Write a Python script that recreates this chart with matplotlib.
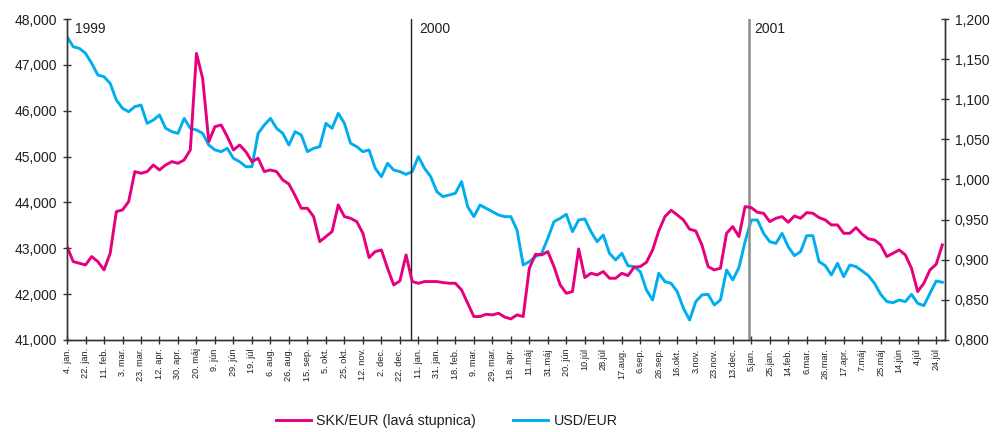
import numpy as np
import matplotlib
matplotlib.use("Agg")
import matplotlib.pyplot as plt
from matplotlib.ticker import FuncFormatter

plt.rcParams['font.family'] = ['Liberation Sans', 'DejaVu Sans']

# x tick labels (one tick every 14 trading days)
tick_labels = ["4. jan.", "22. jan.", "11. feb.", "3. mar.", "23. mar.", "12. apr.", "30. apr.",
               "20. máj", "9. jún", "29. jún", "19. júl", "6. aug.", "26. aug.", "15. sep.",
               "5. okt.", "25. okt.", "12. nov.", "2. dec.", "22. dec.",
               "11. jan.", "31. jan.", "18. feb.", "9. mar.", "29. mar.", "18. apr.", "11.máj",
               "31.máj", "20. jún", "10.júl", "28.júl", "17.aug.", "6.sep.", "26.sep.",
               "16.okt.", "3.nov.", "23.nov.", "13.dec.",
               "5.jan.", "25.jan.", "14.feb.", "6.mar.", "26.mar.", "17.apr.", "7.máj",
               "25.máj", "14.jún", "4.júl", "24.júl"]

# samples every 1/3 of a tick interval (~weekly)
skk_eur = [43037, 42710, 42673, 42637, 42819, 42710, 42528, 42891, 43800, 43836,
           44018, 44672, 44635, 44672, 44817, 44708, 44817, 44890, 44853, 44926,
           45144, 47250, 46706, 45326, 45653, 45689, 45435, 45144, 45253, 45108,
           44890, 44963, 44672, 44708, 44672, 44490, 44400, 44150, 43872, 43872,
           43691, 43146, 43255, 43364, 43945, 43691, 43654, 43582, 43327, 42797,
           42928, 42964, 42564, 42201, 42288, 42855, 42274, 42237, 42274, 42274,
           42274, 42252, 42237, 42237, 42092, 41801, 41511, 41511, 41561, 41547,
           41583, 41500, 41460, 41547, 41511, 42564, 42869, 42855, 42928, 42601,
           42201, 42019, 42056, 42986, 42361, 42455, 42419, 42492, 42346, 42346,
           42455, 42404, 42586, 42601, 42695, 42964, 43378, 43691, 43829, 43727,
           43618, 43415, 43378, 43073, 42601, 42528, 42564, 43327, 43473, 43255,
           43909, 43887, 43785, 43763, 43582, 43654, 43691, 43567, 43705, 43654,
           43778, 43763, 43669, 43618, 43509, 43509, 43327, 43327, 43451, 43306,
           43204, 43182, 43073, 42819, 42891, 42964, 42855, 42564, 42056, 42237,
           42528, 42651, 43073]

usd_eur = [1.1780, 1.1655, 1.1634, 1.1572, 1.1448, 1.1302, 1.1281, 1.1198, 1.0991, 1.0887,
           1.0845, 1.0908, 1.0928, 1.0700, 1.0741, 1.0804, 1.0638, 1.0596, 1.0575, 1.0762,
           1.0638, 1.0617, 1.0575, 1.0430, 1.0368, 1.0347, 1.0388, 1.0264, 1.0222, 1.0160,
           1.0160, 1.0575, 1.0679, 1.0762, 1.0638, 1.0575, 1.0430, 1.0596, 1.0555, 1.0347,
           1.0388, 1.0409, 1.0700, 1.0638, 1.0825, 1.0700, 1.0451, 1.0409, 1.0347, 1.0368,
           1.0139, 1.0035, 1.0201, 1.0118, 1.0098, 1.0064, 1.0098, 1.0285, 1.0139, 1.0035,
           0.9848, 0.9786, 0.9807, 0.9828, 0.9973, 0.9661, 0.9537, 0.9682, 0.9641, 0.9599,
           0.9558, 0.9537, 0.9537, 0.9371, 0.8935, 0.8976, 0.9038, 0.9080, 0.9267, 0.9475,
           0.9516, 0.9566, 0.9350, 0.9495, 0.9508, 0.9350, 0.9225, 0.9308, 0.9080, 0.8997,
           0.9080, 0.8926, 0.8914, 0.8851, 0.8623, 0.8498, 0.8831, 0.8727, 0.8706, 0.8602,
           0.8395, 0.8249, 0.8478, 0.8561, 0.8569, 0.8436, 0.8498, 0.8872, 0.8748, 0.8901,
           0.9225, 0.9495, 0.9495, 0.9329, 0.9225, 0.9204, 0.9329, 0.9163, 0.9051, 0.9101,
           0.9300, 0.9300, 0.8976, 0.8926, 0.8810, 0.8955, 0.8789, 0.8935, 0.8914, 0.8860,
           0.8802, 0.8706, 0.8569, 0.8478, 0.8465, 0.8498, 0.8478, 0.8569, 0.8457, 0.8428,
           0.8582, 0.8735, 0.8719]

years = ["1999", "2000", "2001"]
year_start = [0.0, 18.61, 36.88]   # position of year boundary in tick units

PINK = '#E6007E'
BLUE = '#00AEEF'
TXT = '#231F20'

samples_per_tick = 3
xs = np.arange(len(skk_eur)) / samples_per_tick

fig = plt.figure(figsize=(9.93, 4.32), dpi=100)
ax = fig.add_axes([0.0675, 0.213, 0.8842, 0.743])
ax2 = ax.twinx()
ax.set_zorder(ax2.get_zorder() + 1)
ax.patch.set_visible(False)

l1, = ax.plot(xs, skk_eur, color=PINK, lw=2.1, solid_joinstyle='round', label='SKK/EUR (lavá stupnica)')
l2, = ax2.plot(xs, usd_eur, color=BLUE, lw=2.1, solid_joinstyle='round', label='USD/EUR')

ax.set_xlim(0, 47.48)
ax.set_ylim(41000, 48000)
ax2.set_ylim(0.8, 1.2)

ax.set_xticks(range(len(tick_labels)))
ax.set_xticklabels(tick_labels, rotation=90, fontsize=6.6, color=TXT, va='top', ha='center')
ax.set_yticks(np.arange(41000, 48001, 1000))
ax.yaxis.set_major_formatter(FuncFormatter(lambda v, p: f"{int(v):,}"))
ax2.set_yticks(np.arange(0.8, 1.2001, 0.05))
ax2.yaxis.set_major_formatter(FuncFormatter(lambda v, p: f"{v:.3f}".replace('.', ',')))

for a in (ax, ax2):
    a.spines['top'].set_visible(False)
    for s in a.spines.values():
        s.set_color('#333333')
        s.set_linewidth(1.0)
ax.tick_params(axis='x', direction='inout', length=6, width=1, color='#333333', pad=3)
ax.tick_params(axis='y', direction='inout', length=6, width=1, color='#333333', pad=4,
               labelsize=10, labelcolor=TXT)
ax2.tick_params(axis='y', direction='inout', length=6, width=1, color='#333333', pad=4,
                labelsize=10, labelcolor=TXT)

# year separators
ax.axvline(year_start[1], color='#222222', lw=1.0, zorder=1)
ax.axvline(year_start[2], color='#8c8c8c', lw=1.8, zorder=1)
text_off = [0.42, 0.42, 0.3]
for yr, xp, off in zip(years, year_start, text_off):
    ax.text(xp + off, 0.99, yr, transform=ax.get_xaxis_transform(), fontsize=10,
            color=TXT, va='top', ha='left')

fig.legend(handles=[l1, l2], loc='center', bbox_to_anchor=(0.45, 0.025), ncol=2,
           frameon=False, fontsize=10.3, handlelength=2.4, handletextpad=0.4,
           columnspacing=2.6, labelcolor=TXT)

fig.savefig('out.png', dpi=100)
